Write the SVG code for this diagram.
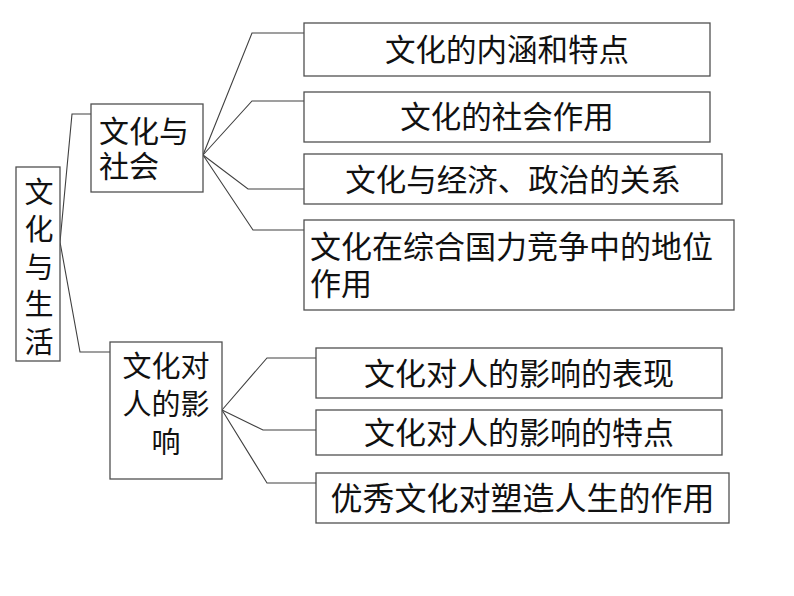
<svg xmlns="http://www.w3.org/2000/svg" width="794" height="596" viewBox="0 0 794 596">
<style>
.box{fill:#fff;stroke:#505050;stroke-width:1.3}
.t{font-family:"Noto Sans CJK SC","Noto Sans",sans-serif;fill:#111;font-size:30.5px}
.c{text-anchor:middle}
.ln{fill:none;stroke:#404040;stroke-width:1.1}
</style>
<rect width="794" height="596" fill="#fff"/>
<g id="connectors">
<polyline class="ln" points="60,242 72,114 91,114"/>
<polyline class="ln" points="60,242 80,352 110,352"/>
<polyline class="ln" points="203,155 252,33 304,33"/>
<polyline class="ln" points="203,155 252,101 304,101"/>
<polyline class="ln" points="203,155 248,189 304,189"/>
<polyline class="ln" points="203,155 253,230 304,230"/>
<polyline class="ln" points="222,410 267,358 316,358"/>
<polyline class="ln" points="222,410 263,430 316,430"/>
<polyline class="ln" points="222,410 267,483 316,483"/>
</g>
<g id="root">
<rect class="box" x="16" y="167" width="44" height="194"/>
<text class="t c" style="font-size:29px" x="39"><tspan x="39" y="202.5">文</tspan><tspan x="39" y="240">化</tspan><tspan x="39" y="277.5">与</tspan><tspan x="39" y="315">生</tspan><tspan x="39" y="352.5">活</tspan></text>
</g>
<g id="n-society">
<rect class="box" x="91" y="104" width="112" height="88"/>
<text class="t" style="font-size:30px" x="99"><tspan x="99" y="142">文化与</tspan><tspan x="99" y="176.5">社会</tspan></text>
</g>
<g id="n-person">
<rect class="box" x="110" y="342" width="112" height="137"/>
<text class="t c" style="font-size:29px" x="166"><tspan x="166" y="377">文化对</tspan><tspan x="166" y="415">人的影</tspan><tspan x="166" y="453">响</tspan></text>
</g>
<g id="n1">
<rect class="box" x="304" y="23" width="406" height="53"/>
<text class="t c" x="507" y="60.5">文化的内涵和特点</text>
</g>
<g id="n2">
<rect class="box" x="304" y="92" width="406" height="50"/>
<text class="t c" x="507" y="128">文化的社会作用</text>
</g>
<g id="n3">
<rect class="box" x="304" y="154" width="418" height="50"/>
<text class="t c" x="513" y="190.5">文化与经济、政治的关系</text>
</g>
<g id="n4">
<rect class="box" x="304" y="220" width="430" height="90"/>
<text class="t" style="font-size:31px" x="310"><tspan x="310" y="257.5">文化在综合国力竞争中的地位</tspan><tspan x="310" y="295">作用</tspan></text>
</g>
<g id="n5">
<rect class="box" x="316" y="348" width="406" height="50"/>
<text class="t c" style="font-size:31px" x="519" y="384.5">文化对人的影响的表现</text>
</g>
<g id="n6">
<rect class="box" x="316" y="410" width="406" height="45"/>
<text class="t c" style="font-size:31px" x="519" y="443.5">文化对人的影响的特点</text>
</g>
<g id="n7">
<rect class="box" x="316" y="473" width="413" height="50"/>
<text class="t c" style="font-size:32px" x="522.5" y="509.5">优秀文化对塑造人生的作用</text>
</g>
</svg>
